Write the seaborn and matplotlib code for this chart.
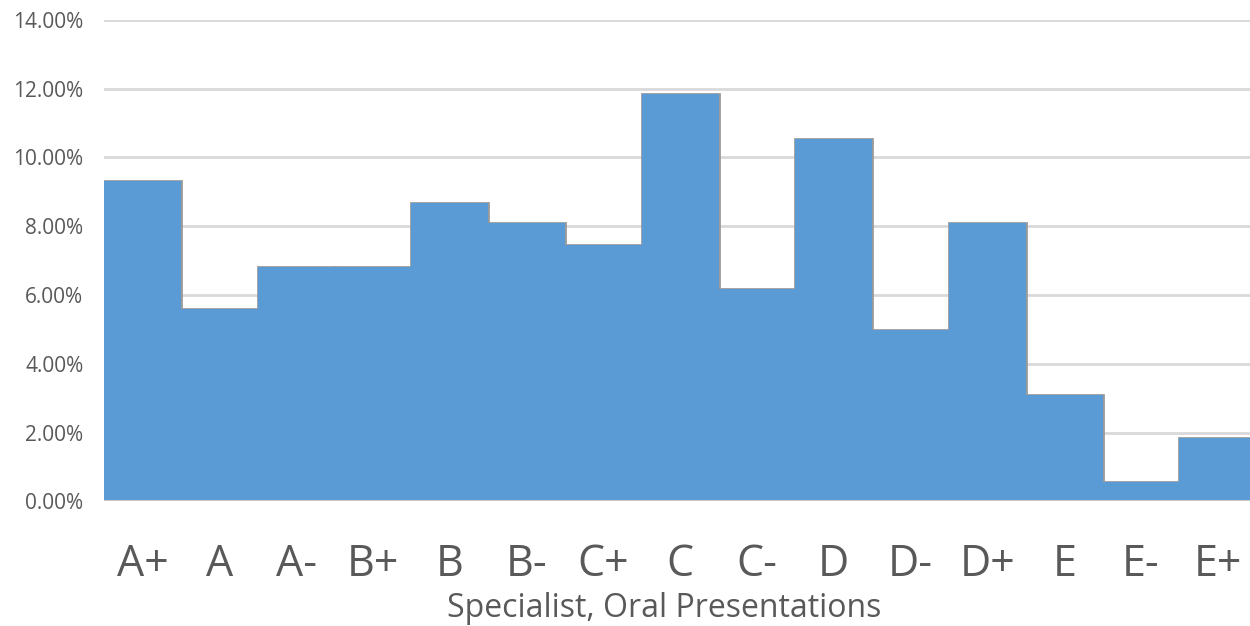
import matplotlib
matplotlib.use("Agg")
import matplotlib.pyplot as plt
from matplotlib.ticker import FuncFormatter, MultipleLocator
import pandas as pd
import seaborn as sns

# Grade categories and the share of presentations in each (percent)
grades = ["A+", "A", "A-", "B+", "B", "B-", "C+", "C", "C-", "D", "D-", "D+", "E", "E-", "E+"]
shares = [9.32, 5.60, 6.82, 6.82, 8.69, 8.09, 7.46, 11.84, 6.18, 10.55, 4.97, 8.09, 3.08, 0.57, 1.84]
x_title = "Specialist, Oral Presentations"

df = pd.DataFrame({"grade": grades, "share": shares})

sns.set_theme(style="white")
plt.rcParams["font.family"] = ["Open Sans", "DejaVu Sans"]

text_grey = "#595959"
grid_grey = "#d9d9d9"
bar_blue = "#5b9bd5"

fig = plt.figure(figsize=(12.5, 6.26), dpi=100)
ax = fig.add_axes([0.0834, 0.1992, 0.9216, 0.7689])

# Outlined bars first, then the same bars without edges on top, so only the
# outer step outline of the histogram-like shape stays visible.
sns.barplot(data=df, x="grade", y="share", color=bar_blue, saturation=1,
            width=1.0, edgecolor="#9a9a9a", linewidth=2.0, ax=ax, zorder=2)
sns.barplot(data=df, x="grade", y="share", color=bar_blue, saturation=1,
            width=1.0, linewidth=0, ax=ax, zorder=2.5)

ax.set_ylim(0, 14)
ax.set_xlim(-0.5, len(grades) - 0.5)
ax.yaxis.set_major_locator(MultipleLocator(2))
ax.yaxis.set_major_formatter(FuncFormatter(lambda v, _: f"{v:.2f}%"))

for v in range(2, 15, 2):
    ax.axhline(v, color=grid_grey, lw=2.0, zorder=1)
ax.axhline(0, color="#c8c8c8", lw=2.2, zorder=3)

for s in ax.spines.values():
    s.set_visible(False)

ax.tick_params(axis="y", length=0, pad=15, labelsize=15, labelcolor=text_grey)
ax.tick_params(axis="x", length=0, pad=30, labelsize=31, labelcolor=text_grey)
ax.set_ylabel("")
ax.set_xlabel(x_title, fontsize=23, color=text_grey, labelpad=3, x=0.486)

fig.savefig("out.png", dpi=100)
